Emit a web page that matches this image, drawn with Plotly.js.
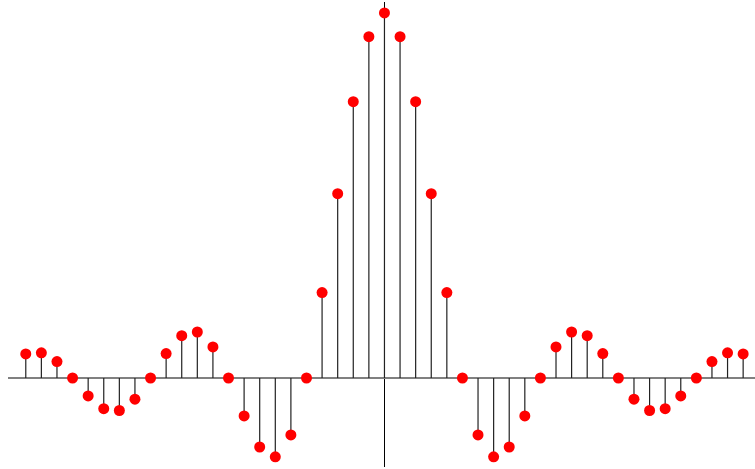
<!DOCTYPE html>
<html>
<head>
<meta charset="utf-8">
<script src="https://cdn.plot.ly/plotly-3.0.1.min.js"></script>
<style>
  html, body { margin: 0; padding: 0; background: #fff; }
  #chart { width: 755px; height: 469px; }
</style>
</head>
<body>
<div id="chart"></div>
<script>
// Sample index n and the sampled values
const sampleIndex = [-23,-22,-21,-20,-19,-18,-17,-16,-15,-14,-13,-12,-11,-10,-9,-8,-7,-6,-5,-4,-3,-2,-1,
                     0,1,2,3,4,5,6,7,8,9,10,11,12,13,14,15,16,17,18,19,20,21,22,23];
const sampleValue = [0.066,0.069,0.045,0,-0.049,-0.084,-0.089,-0.058,0,0.067,0.116,0.126,0.085,0,-0.104,-0.189,-0.216,-0.156,0,0.234,0.505,0.757,0.935,
                     1.0,0.935,0.757,0.505,0.234,0,-0.156,-0.216,-0.189,-0.104,0,0.085,0.126,0.116,0.067,0,-0.058,-0.089,-0.084,-0.049,0,0.045,0.069,0.066];

// Stem segments from the baseline up (or down) to each sample
const stemX = [], stemY = [];
sampleIndex.forEach((n, i) => {
  stemX.push(n, n, null);
  stemY.push(0, sampleValue[i], null);
});

const stems = {
  x: stemX, y: stemY, type: 'scatter', mode: 'lines',
  line: { color: '#222', width: 1.2 },
  hoverinfo: 'skip', showlegend: false
};

const heads = {
  x: sampleIndex, y: sampleValue, type: 'scatter', mode: 'markers',
  marker: { color: '#ff0000', size: 11 },
  showlegend: false
};

const layout = {
  width: 755, height: 469,
  margin: { l: 8, r: 0, t: 2, b: 2 },
  paper_bgcolor: '#fff', plot_bgcolor: '#fff',
  xaxis: {
    range: [-24.14, 23.76], showgrid: false, showticklabels: false, ticks: '',
    zeroline: true, zerolinecolor: '#000', zerolinewidth: 1, showline: false
  },
  yaxis: {
    range: [-0.2438, 1.03], showgrid: false, showticklabels: false, ticks: '',
    zeroline: true, zerolinecolor: '#808080', zerolinewidth: 2, showline: false
  }
};

Plotly.newPlot('chart', [stems, heads], layout, { staticPlot: true });
</script>
</body>
</html>
